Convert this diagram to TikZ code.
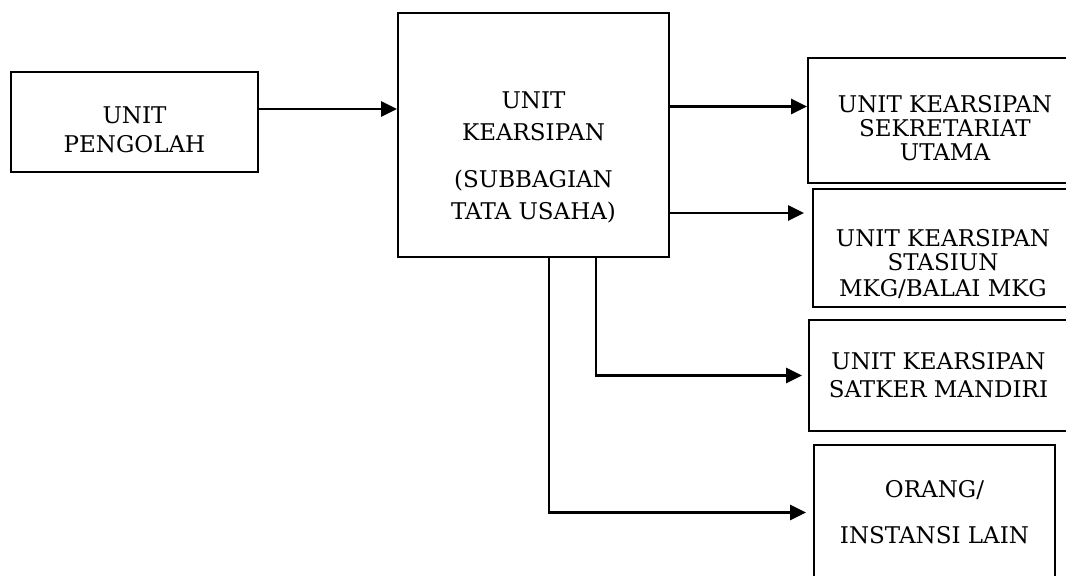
\documentclass[tikz,border=0pt]{standalone}
\usepackage{fontspec}
\setmainfont{DejaVu Serif}
\usetikzlibrary{arrows.meta}

\tikzset{
  unitbox/.style={draw, line width=0.9pt, align=center, inner sep=2pt,
    font=\fontsize{11.5}{14}\selectfont},
  flow/.style={line width=1.4pt, -{Triangle[length=8pt, width=7.5pt]}},
}

\begin{document}
\begin{tikzpicture}[x=0.5pt, y=-0.5pt]
    \path[use as bounding box, clip] (0,0) rectangle (1066,576);
    % Source and archive unit
    \node[unitbox, minimum width=123.5pt, minimum height=50pt] (pengolah)
      at (134.5,122) {\rule{0pt}{16pt}UNIT\\[0.5pt]PENGOLAH};
    \node[unitbox, minimum width=135.5pt, minimum height=122pt] (kearsipan)
      at (533.5,135) {\rule{0pt}{31pt}UNIT\\[2pt]KEARSIPAN\\[9.5pt]%
        (SUBBAGIAN\\[2pt]TATA USAHA)};
    % Receiving units (right edges run off the page)
    \node[unitbox, minimum width=137pt, minimum height=62.5pt] (sekretariat)
      at (945,120.5) {\rule{0pt}{16pt}UNIT KEARSIPAN\\[-2pt]SEKRETARIAT\\[-2pt]UTAMA};
    \node[unitbox, minimum width=130pt, minimum height=59pt] (stasiun)
      at (943,248) {\rule{0pt}{25pt}UNIT KEARSIPAN\\[-2pt]STASIUN\\[-1pt]MKG/BALAI MKG};
    \node[unitbox, minimum width=129.5pt, minimum height=55.5pt] (satker)
      at (938.5,375.5) {UNIT KEARSIPAN\\SATKER MANDIRI};
    \node[unitbox, minimum width=120.5pt, minimum height=67.5pt] (orang)
      at (934.5,512.5) {ORANG/\\[9pt]INSTANSI LAIN};
    % Arrows
    \draw[flow] ([yshift=6.5pt]pengolah.east)
      -- ([yshift=6.5pt]pengolah.east -| kearsipan.west);
    \draw[flow] ([yshift=7pt]kearsipan.east |- sekretariat.west)
      -- ([yshift=7pt]sekretariat.west);
    \draw[flow, shorten >=4pt] ([yshift=17.5pt]kearsipan.east |- stasiun.west)
      -- ([yshift=17.5pt]stasiun.west);
    \draw[flow, shorten >=3pt] ([xshift=31.25pt]kearsipan.south) |- (satker.west);
    \draw[flow, shorten >=3.5pt] ([xshift=7.75pt]kearsipan.south) |- (orang.west);
\end{tikzpicture}
\end{document}
